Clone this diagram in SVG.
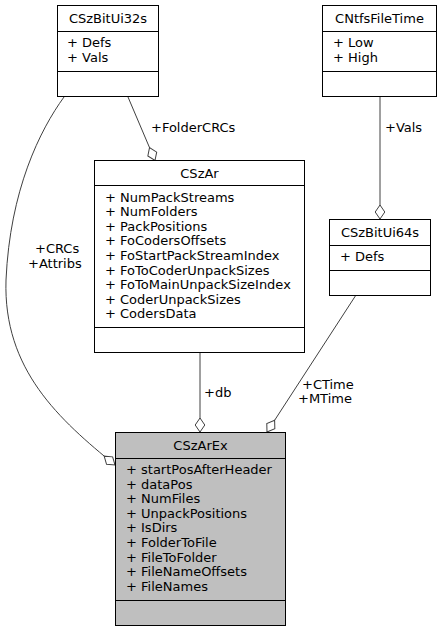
<svg xmlns="http://www.w3.org/2000/svg" width="443" height="632" viewBox="0 0 443 632">
<style>
text{font-family:"DejaVu Sans","Liberation Sans",sans-serif;font-size:13px;fill:#000}
.t{text-anchor:middle}
.box{fill:#fff;stroke:#000;stroke-width:1}
.main{fill:#bfbfbf}
.sep{stroke:#000;stroke-width:1}
.e{fill:none;stroke:#404040;stroke-width:1;marker-end:url(#d)}
</style>
<defs>
<marker id="d" markerUnits="userSpaceOnUse" markerWidth="16" markerHeight="12" viewBox="0 0 16 12" refX="15" refY="6" orient="auto" overflow="visible">
<path d="M15,6 L8,1.2 L1,6 L8,10.8 Z" fill="#fff" stroke="#404040" stroke-width="1"/>
</marker>
</defs>
<rect width="443" height="632" fill="#fff"/>
<g id="edges">
<path class="e" d="M64,97 C40,130 10,190 6,280 C3,370 60,420 115,465"/>
<path class="e" d="M128,97 L155,160.5"/>
<path class="e" d="M380,97 L380,219"/>
<path class="e" d="M200,353 L200,432"/>
<path class="e" d="M356,295 L267,432"/>
<text x="35" y="253">+CRCs</text>
<text x="28" y="268">+Attribs</text>
<text x="151" y="132">+FolderCRCs</text>
<text x="385" y="132">+Vals</text>
<text x="204" y="397">+db</text>
<text x="302" y="389">+CTime</text>
<text x="298" y="403">+MTime</text>
</g>
<g id="CSzBitUi32s">
<rect class="box" x="57.5" y="5.5" width="101" height="91"/>
<line class="sep" x1="57.5" y1="31.5" x2="158.5" y2="31.5"/>
<line class="sep" x1="57.5" y1="71.5" x2="158.5" y2="71.5"/>
<text class="t" x="108" y="23">CSzBitUi32s</text>
<text x="67" y="47">+ Defs</text>
<text x="67" y="61.6">+ Vals</text>
</g>
<g id="CNtfsFileTime">
<rect class="box" x="322.5" y="5.5" width="114" height="91"/>
<line class="sep" x1="322.5" y1="31.5" x2="436.5" y2="31.5"/>
<line class="sep" x1="322.5" y1="71.5" x2="436.5" y2="71.5"/>
<text class="t" x="379.5" y="23">CNtfsFileTime</text>
<text x="333" y="47">+ Low</text>
<text x="333" y="61.6">+ High</text>
</g>
<g id="CSzAr">
<rect class="box" x="94.5" y="160.5" width="210" height="192"/>
<line class="sep" x1="94.5" y1="185.5" x2="304.5" y2="185.5"/>
<line class="sep" x1="94.5" y1="327.5" x2="304.5" y2="327.5"/>
<text class="t" x="199.5" y="178">CSzAr</text>
<text x="105" y="201.5">+ NumPackStreams</text>
<text x="105" y="216.1">+ NumFolders</text>
<text x="105" y="230.7">+ PackPositions</text>
<text x="105" y="245.3">+ FoCodersOffsets</text>
<text x="105" y="259.9">+ FoStartPackStreamIndex</text>
<text x="105" y="274.5">+ FoToCoderUnpackSizes</text>
<text x="105" y="289.1">+ FoToMainUnpackSizeIndex</text>
<text x="105" y="303.7">+ CoderUnpackSizes</text>
<text x="105" y="318.3">+ CodersData</text>
</g>
<g id="CSzBitUi64s">
<rect class="box" x="329.5" y="219.5" width="101" height="76"/>
<line class="sep" x1="329.5" y1="245.5" x2="430.5" y2="245.5"/>
<line class="sep" x1="329.5" y1="270.5" x2="430.5" y2="270.5"/>
<text class="t" x="380" y="237">CSzBitUi64s</text>
<text x="340" y="261">+ Defs</text>
</g>
<g id="CSzArEx">
<rect class="box main" x="115.5" y="432.5" width="170" height="193"/>
<line class="sep" x1="115.5" y1="458.5" x2="285.5" y2="458.5"/>
<line class="sep" x1="115.5" y1="600.5" x2="285.5" y2="600.5"/>
<text class="t" x="200.5" y="450">CSzArEx</text>
<text x="126" y="474">+ startPosAfterHeader</text>
<text x="126" y="488.6">+ dataPos</text>
<text x="126" y="503.2">+ NumFiles</text>
<text x="126" y="517.8">+ UnpackPositions</text>
<text x="126" y="532.4">+ IsDirs</text>
<text x="126" y="547">+ FolderToFile</text>
<text x="126" y="561.6">+ FileToFolder</text>
<text x="126" y="576.2">+ FileNameOffsets</text>
<text x="126" y="590.8">+ FileNames</text>
</g>
</svg>
